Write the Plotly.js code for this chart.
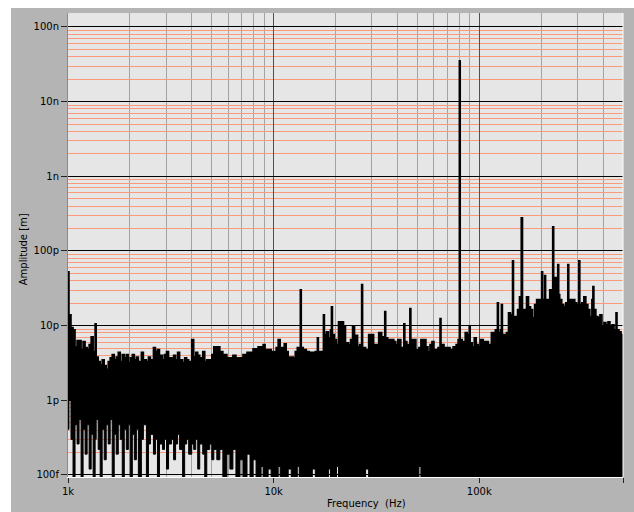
<!DOCTYPE html>
<html><head><meta charset="utf-8">
<script src="https://cdn.plot.ly/plotly-3.0.1.min.js"></script>
<style>html,body{margin:0;padding:0;background:#fff}#chart{width:634px;height:512px}</style>
</head><body><div id="chart"></div>
<script>
// Frequency bins (kHz)
const freqKHz = [
1.000,1.011,1.034,1.058,1.082,1.107,1.132,1.158,1.184,1.211,
1.239,1.267,1.296,1.325,1.355,1.371,1.402,1.434,1.466,1.500,
1.534,1.569,1.604,1.641,1.678,1.716,1.756,1.795,1.836,1.878,
1.921,1.965,2.009,2.055,2.102,2.150,2.199,2.274,2.326,2.406,
2.461,2.517,2.603,2.662,2.723,2.785,2.881,2.946,3.013,3.083,
3.189,3.262,3.336,3.412,3.490,3.610,3.692,3.776,3.862,3.995,
4.086,4.179,4.274,4.371,4.521,4.624,4.730,4.892,5.004,5.117,
5.293,5.475,5.664,5.925,6.128,6.339,6.557,6.859,7.095,7.422,
7.677,7.941,8.214,8.401,8.690,8.888,9.090,9.297,9.402,9.725,
10.06,10.29,10.52,10.76,11.00,11.26,11.51,11.77,12.18,12.45,
12.74,13.03,13.32,13.48,13.63,13.94,14.42,14.91,15.42,15.95,
16.32,16.50,17.07,17.46,17.66,18.06,18.47,18.89,19.10,19.32,
19.76,20.21,20.67,21.38,21.87,22.36,23.13,23.66,24.20,24.75,
25.60,26.18,26.78,27.08,28.01,28.97,29.97,30.65,31.35,32.42,
33.54,34.69,35.08,35.88,37.11,38.39,39.26,40.16,41.54,42.96,
43.45,44.44,45.97,46.49,47.55,49.18,50.87,52.03,53.81,55.04,
56.29,57.57,58.88,60.22,61.60,63.00,64.43,65.16,67.40,69.72,
72.11,74.59,77.15,78.91,80.00,80.80,82.59,85.43,87.37,89.36,
90.37,92.43,94.53,96.68,98.88,101.1,104.6,108.2,110.7,114.5,
118.4,119.7,122.5,123.9,126.7,128.1,129.6,132.5,135.6,138.7,
141.8,145.1,146.7,150.1,153.5,156.9,160.0,162.3,166.0,169.7,
173.6,177.6,181.6,185.8,190.0,194.3,198.7,201.0,203.3,207.9,
210.2,215.1,220.0,225.0,227.5,230.1,232.7,238.0,240.7,243.4,
246.2,251.8,257.5,263.4,269.4,272.4,278.6,285.0,291.4,298.1,
304.9,308.3,315.3,322.5,329.8,337.3,345.0,352.9,356.9,360.9,
369.1,377.5,386.1,394.9,403.9,413.1,422.5,432.1,442.0,452.0,
462.3,467.6,478.2,489.1,500.0
];
// Upper envelope of the amplitude spectrum (pm)
const upperPm = [
52.8,14.0,9.4,8.8,5.2,6.3,6.3,4.8,6.1,5.1,
4.8,5.6,7.1,4.5,10.6,3.8,3.3,3.0,3.5,2.9,
2.6,3.3,3.7,4.1,3.5,3.8,4.4,3.3,4.1,3.7,
4.1,3.2,3.7,4.1,3.5,3.8,3.3,4.4,3.5,3.3,
3.8,3.5,5.1,4.5,4.8,4.0,3.5,4.1,4.5,3.7,
3.7,4.0,3.5,4.4,3.5,3.2,3.7,3.5,3.3,6.5,
3.8,4.4,4.0,3.7,4.5,3.3,3.5,3.5,4.1,5.2,
5.2,4.5,4.1,3.7,3.7,4.0,3.7,3.7,4.1,4.4,
4.4,4.9,4.9,5.2,5.2,5.6,4.8,4.4,4.8,4.5,
4.5,5.1,6.5,5.1,5.1,5.7,4.5,3.8,3.8,3.7,
4.5,5.1,5.1,30.3,5.1,4.8,4.5,4.4,4.4,4.5,
6.9,4.5,4.5,14.0,7.6,8.3,6.9,8.8,17.9,7.6,
6.5,5.6,11.3,11.3,9.7,5.9,5.6,6.5,9.7,7.4,
5.2,5.6,35.4,5.1,4.8,7.6,7.6,5.6,5.6,8.1,
7.1,15.4,6.9,6.5,6.5,6.1,5.6,6.5,5.1,10.6,
6.1,5.6,16.9,6.5,6.5,4.8,5.1,6.5,6.5,5.2,
4.5,5.6,6.1,4.8,4.8,5.1,12.4,5.6,5.1,5.1,
4.8,5.2,5.6,6.5,35300,6.5,6.1,8.1,7.6,9.7,
5.9,5.2,6.9,5.6,5.2,6.5,6.1,6.1,5.6,8.1,
8.1,8.8,20.3,8.1,8.8,19.1,7.6,7.6,8.1,14.9,
14.0,74,13.2,13.2,16.4,24.4,279,16.4,16.4,24.4,
17.9,16.4,12.8,19.1,22.3,22.3,19.1,52.8,22.3,46.7,
22.3,22.3,30.3,26.0,211,30.3,44,30.3,65.6,26.0,
22.3,19.1,17.9,20.3,65.6,22.3,22.3,22.3,20.3,19.1,
74,19.1,20.3,24.4,19.1,16.4,13.2,22.3,33.3,16.4,
13.2,12.8,14.0,9.7,11.0,10.3,11.3,9.7,10.3,8.8,
14.9,8.8,8.3,7.6,6.9
];
// Lower envelope of the amplitude spectrum (pm); values below 0.1 fall under the axis
const lowerPm = [
0.41,1.02,0.30,0.05,0.47,0.26,0.55,0.05,0.41,0.19,
0.47,0.12,0.35,0.05,0.30,0.55,0.22,0.05,0.41,0.16,
0.47,0.26,0.55,0.05,0.35,0.19,0.47,0.30,0.05,0.41,
0.22,0.47,0.05,0.35,0.16,0.41,0.05,0.30,0.47,0.05,
0.26,0.35,0.19,0.30,0.05,0.26,0.22,0.30,0.12,0.26,
0.30,0.16,0.26,0.35,0.22,0.05,0.26,0.30,0.19,0.26,
0.22,0.30,0.12,0.26,0.19,0.05,0.22,0.26,0.16,0.22,
0.16,0.22,0.05,0.19,0.12,0.22,0.05,0.16,0.05,0.19,
0.05,0.16,0.05,0.05,0.13,0.05,0.05,0.05,0.12,0.05,
0.05,0.05,0.13,0.05,0.05,0.05,0.05,0.12,0.05,0.05,
0.05,0.13,0.05,0.05,0.05,0.05,0.05,0.05,0.12,0.05,
0.05,0.05,0.05,0.05,0.05,0.05,0.12,0.05,0.05,0.05,
0.05,0.13,0.05,0.05,0.05,0.05,0.05,0.05,0.05,0.05,
0.05,0.05,0.05,0.05,0.12,0.05,0.05,0.05,0.05,0.05,
0.05,0.05,0.05,0.05,0.05,0.05,0.05,0.05,0.05,0.05,
0.05,0.05,0.05,0.05,0.05,0.05,0.13,0.05,0.05,0.05,
0.05,0.05,0.05,0.05,0.05,0.05,0.05,0.05,0.05,0.05,
0.05,0.05,0.05,0.05,0.05,0.05,0.05,0.05,0.05,0.05,
0.05,0.05,0.05,0.05,0.05,0.05,0.05,0.05,0.05,0.05,
0.05,0.05,0.05,0.05,0.05,0.05,0.05,0.05,0.05,0.05,
0.05,0.05,0.05,0.05,0.05,0.05,0.05,0.05,0.05,0.05,
0.05,0.05,0.05,0.05,0.05,0.05,0.05,0.05,0.05,0.05,
0.05,0.05,0.05,0.05,0.05,0.05,0.05,0.05,0.05,0.05,
0.05,0.05,0.05,0.05,0.05,0.05,0.05,0.05,0.05,0.05,
0.05,0.05,0.05,0.05,0.05,0.05,0.05,0.05,0.05,0.05,
0.05,0.05,0.05,0.05,0.05,0.05,0.05,0.05,0.05,0.05,
0.05,0.05,0.05,0.05,0.05
];
const xTickVals = [1, 10, 100, 500];
const xTickText = ['1k', '10k', '100k', '500k'];
const yTickVals = [0.1, 1, 10, 100, 1000, 10000, 100000];
const yTickText = ['100f', '1p', '10p', '100p', '1n', '10n', '100n'];
const xTitle = 'Frequency\u00a0\u00a0(Hz)';
const yTitle = 'Amplitude [m]';

const font = {family: 'DejaVu Sans, Verdana, sans-serif', size: 10, color: '#000'};

const traces = [
  {x: freqKHz, y: lowerPm, type: 'scatter', mode: 'lines',
   line: {color: '#000', width: 1, shape: 'hv', simplify: false}, hoverinfo: 'skip'},
  {x: freqKHz, y: upperPm, type: 'scatter', mode: 'lines', fill: 'tonexty', fillcolor: '#000',
   line: {color: '#000', width: 1.6, shape: 'hv', simplify: false}, hoverinfo: 'skip'}
];

const layout = {
  width: 634, height: 512,
  margin: {l: 68, r: 11, t: 13, b: 35, pad: 0},
  paper_bgcolor: '#b4b4b4', plot_bgcolor: '#e6e6e6',
  showlegend: false, font: font,
  xaxis: {type: 'log', range: [0, Math.log10(500)], tickmode: 'array',
    tickvals: xTickVals, ticktext: xTickText, ticks: 'outside', ticklen: 5,
    tickcolor: '#222', tickwidth: 1, tickfont: font,
    showgrid: true, gridcolor: '#505050', gridwidth: 1,
    minor: {tickmode: 'linear', dtick: 'D1', showgrid: true, gridcolor: '#a3a3a3', gridwidth: 1, ticks: ''},
    showline: true, linecolor: '#ffffff', linewidth: 1, zeroline: false, fixedrange: true},
  yaxis: {type: 'log', range: [-1.027, 5.187], tickmode: 'array',
    tickvals: yTickVals, ticktext: yTickText, ticks: 'outside', ticklen: 6,
    tickcolor: '#222', tickwidth: 1, tickfont: font,
    showgrid: true, gridcolor: '#000000', gridwidth: 1,
    minor: {tickmode: 'linear', dtick: 'D1', showgrid: true, gridcolor: '#fa9a7a', gridwidth: 1, ticks: ''},
    showline: true, linecolor: '#8a8a8a', linewidth: 1, zeroline: false, fixedrange: true},
  shapes: [
    {type: 'rect', xref: 'paper', yref: 'paper', x0: -0.2, x1: -0.1027, y0: -0.2, y1: 1.2,
     fillcolor: '#ffffff', line: {width: 0}, layer: 'above'},
    {type: 'rect', xref: 'paper', yref: 'paper', x0: -0.2, x1: 1.2, y0: 1.0108, y1: 1.2,
     fillcolor: '#ffffff', line: {width: 0}, layer: 'above'},
    {type: 'line', xref: 'paper', yref: 'paper', x0: 1, x1: 1, y0: 0, y1: 1,
     line: {color: '#ffffff', width: 1}, layer: 'above'}
  ],
  annotations: [
    {text: xTitle, xref: 'paper', yref: 'paper', x: 0.537, y: -0.058,
     xanchor: 'center', yanchor: 'middle', showarrow: false, font: font},
    {text: yTitle, xref: 'paper', yref: 'paper', x: -0.081, y: 0.491, textangle: -90,
     xanchor: 'center', yanchor: 'middle', showarrow: false, font: font}
  ]
};

Plotly.newPlot('chart', traces, layout, {staticPlot: true, displayModeBar: false});
</script>
</body></html>
